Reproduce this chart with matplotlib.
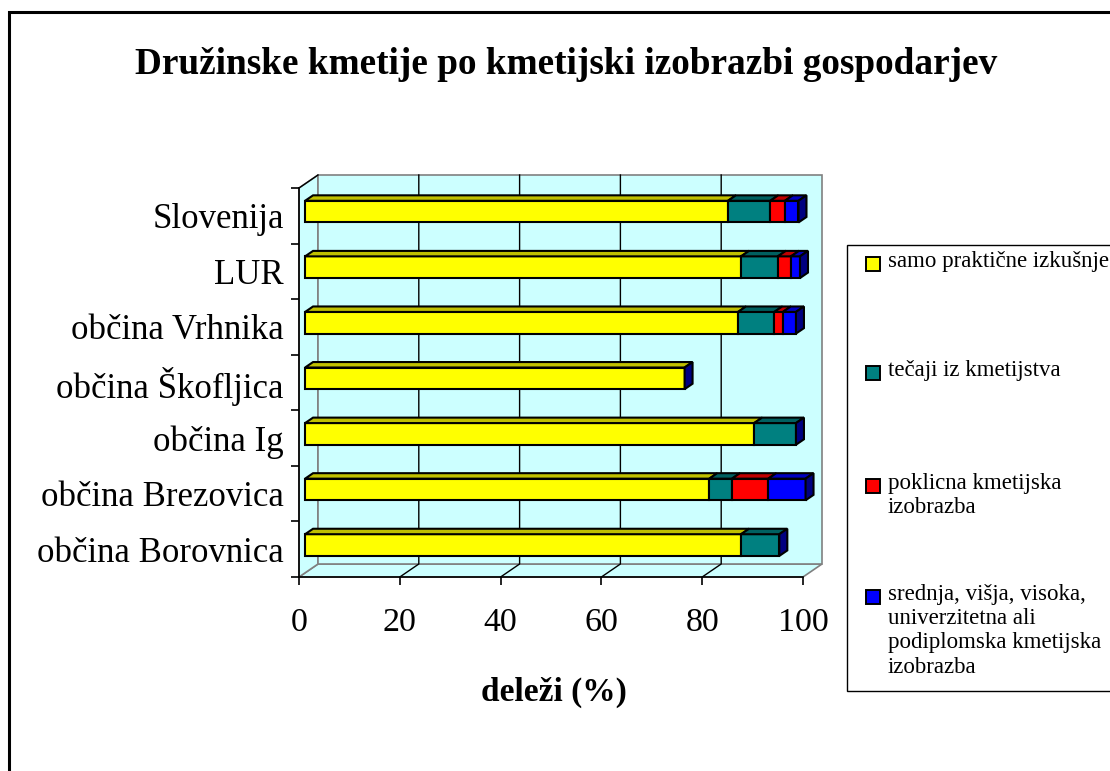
"""Družinske kmetije po kmetijski izobrazbi gospodarjev - stacked 3D-style horizontal bars."""

import matplotlib

matplotlib.use("Agg")
import matplotlib.pyplot as plt
import numpy as np
from matplotlib import transforms
from matplotlib.patches import Polygon, Rectangle

plt.rcParams["font.family"] = ["Liberation Serif", "DejaVu Serif"]

regions = [
    "občina Borovnica",
    "občina Brezovica",
    "občina Ig",
    "občina Škofljica",
    "občina Vrhnika",
    "LUR",
    "Slovenija",
]
prakticne = [86.5, 80.2, 89.1, 75.3, 85.9, 86.5, 83.9]
tecaji = [7.6, 4.5, 8.3, 0.0, 7.2, 7.3, 8.4]
poklicna = [0.0, 7.2, 0.0, 0.0, 1.7, 2.6, 2.9]
srednja = [0.0, 7.4, 0.0, 0.0, 2.6, 1.8, 2.7]

series = [prakticne, tecaji, poklicna, srednja]
series_labels = [
    "samo praktične izkušnje",
    "tečaji iz kmetijstva",
    "poklicna kmetijska\nizobrazba",
    "srednja, višja, visoka,\nuniverzitetna ali\npodiplomska kmetijska\nizobrazba",
]
front_colors = ["#FFFF00", "#008080", "#FF0000", "#0000FF"]
top_colors = ["#C0C000", "#006060", "#C00000", "#0000C0"]
cap_color = "#000080"
wall_color = "#CCFFFF"
x_ticks = [0, 20, 40, 60, 80, 100]

W, H, DPI = 1110, 771, 100
DEPTH = np.array([19.0, 13.0])  # full depth of the box, pixels (right, up)
BAR_D0, BAR_D1 = 0.32, 0.74  # bar front/back as fraction of depth
BAR_H = 0.39

fig = plt.figure(figsize=(W / DPI, H / DPI), dpi=DPI)
ax = fig.add_axes([299 / W, 1 - 577 / H, 504 / W, 389 / H])
ax.set_xlim(0, 100)
ax.set_ylim(-0.5, len(regions) - 0.5)
ax.patch.set_visible(False)
for s in ["top", "right"]:
    ax.spines[s].set_visible(False)
for s in ["left", "bottom"]:
    ax.spines[s].set_linewidth(1.2)
    ax.spines[s].set_zorder(5)

ident = transforms.IdentityTransform()


def px(x, y, d):
    p = ax.transData.transform((x, y))
    return p + d * DEPTH


def poly(pts, **kw):
    ax.add_patch(Polygon(pts, closed=True, transform=ident, clip_on=False, **kw))


# walls: floor, left wall, back wall
y0, y1 = ax.get_ylim()
wall_kw = dict(facecolor=wall_color, edgecolor="#808080", linewidth=1.2, zorder=0)
poly([px(0, y0, 0), px(100, y0, 0), px(100, y0, 1), px(0, y0, 1)], **wall_kw)
poly([px(0, y0, 0), px(0, y1, 0), px(0, y1, 1), px(0, y0, 1)], **wall_kw)
poly([px(0, y0, 1), px(100, y0, 1), px(100, y1, 1), px(0, y1, 1)], **wall_kw)

# gridlines on the back wall and floor
for t in x_ticks[1:-1]:
    a, b, c = px(t, y0, 0), px(t, y0, 1), px(t, y1, 1)
    ax.add_line(plt.Line2D([a[0], b[0], c[0]], [a[1], b[1], c[1]], color="black",
                           lw=1, transform=ident, clip_on=False, zorder=1))
a, b = px(0, y1, 0), px(0, y1, 1)
ax.add_line(plt.Line2D([a[0], b[0]], [a[1], b[1]], color="black", lw=1,
                       transform=ident, clip_on=False, zorder=1))

# bars
bar_shift = ax.transData + transforms.ScaledTranslation(
    BAR_D0 * DEPTH[0] / DPI, BAR_D0 * DEPTH[1] / DPI, fig.dpi_scale_trans)
ypos = np.arange(len(regions))
left = np.zeros(len(regions))
for vals, fc, tc in zip(series, front_colors, top_colors):
    vals = np.asarray(vals)
    bars = ax.barh(ypos, vals, height=BAR_H, left=left, color=fc,
                   edgecolor="black", linewidth=1.5, zorder=3)
    for bar, v, l, y in zip(bars, vals, left, ypos):
        bar.set_transform(bar_shift)
        bar.set_clip_on(False)
        if v <= 0:
            bar.set_visible(False)
            continue
        top = y + BAR_H / 2
        poly([px(l, top, BAR_D0), px(l + v, top, BAR_D0),
              px(l + v, top, BAR_D1), px(l, top, BAR_D1)],
             facecolor=tc, edgecolor="black", linewidth=1.5, zorder=3)
    left = left + vals

for tot, y in zip(left, ypos):
    bot, top = y - BAR_H / 2, y + BAR_H / 2
    poly([px(tot, bot, BAR_D0), px(tot, top, BAR_D0),
          px(tot, top, BAR_D1), px(tot, bot, BAR_D1)],
         facecolor=cap_color, edgecolor="black", linewidth=1.5, zorder=3)

# axes ticks and labels
ax.set_xticks(x_ticks)
ax.set_xticklabels([str(t) for t in x_ticks], fontsize=24.5)
ax.tick_params(axis="x", length=6, width=1.2, pad=16)
ax.set_yticks(ypos)
ax.set_yticklabels(regions, fontsize=25)
ax.set_yticks(np.arange(len(regions) + 1) - 0.5, minor=True)
ax.tick_params(axis="y", which="major", length=0, pad=11)
ax.tick_params(axis="y", which="minor", length=6, width=1.2)

fig.text(566 / W, 1 - 65 / H, "Družinske kmetije po kmetijski izobrazbi gospodarjev",
         ha="center", va="center", fontsize=26.8, fontweight="bold")
fig.text(554 / W, 1 - 692 / H, "deleži (%)", ha="center", va="center",
         fontsize=24, fontweight="bold")

# legend box
fig.patches.append(Rectangle((847 / W, 1 - 691 / H), 300 / W, 446 / H,
                             transform=fig.transFigure, facecolor="white",
                             edgecolor="black", linewidth=1))
entry_y = [264, 373, 486, 597]
for lab, fc, ey in zip(series_labels, front_colors, entry_y):
    fig.patches.append(Rectangle((866 / W, 1 - (ey + 7) / H), 14 / W, 14 / H,
                                 transform=fig.transFigure, facecolor=fc,
                                 edgecolor="black", linewidth=1.4))
    fig.text(888 / W, 1 - (ey - 13) / H, lab, ha="left", va="top",
             fontsize=16.5, linespacing=1.2)

# outer frame
fig.patches.append(Rectangle((9 / W, -0.1), 1.2, 1 - 12 / H + 0.1,
                             transform=fig.transFigure, facecolor="none",
                             edgecolor="black", linewidth=2.2))

fig.savefig("out.png", dpi=DPI)
